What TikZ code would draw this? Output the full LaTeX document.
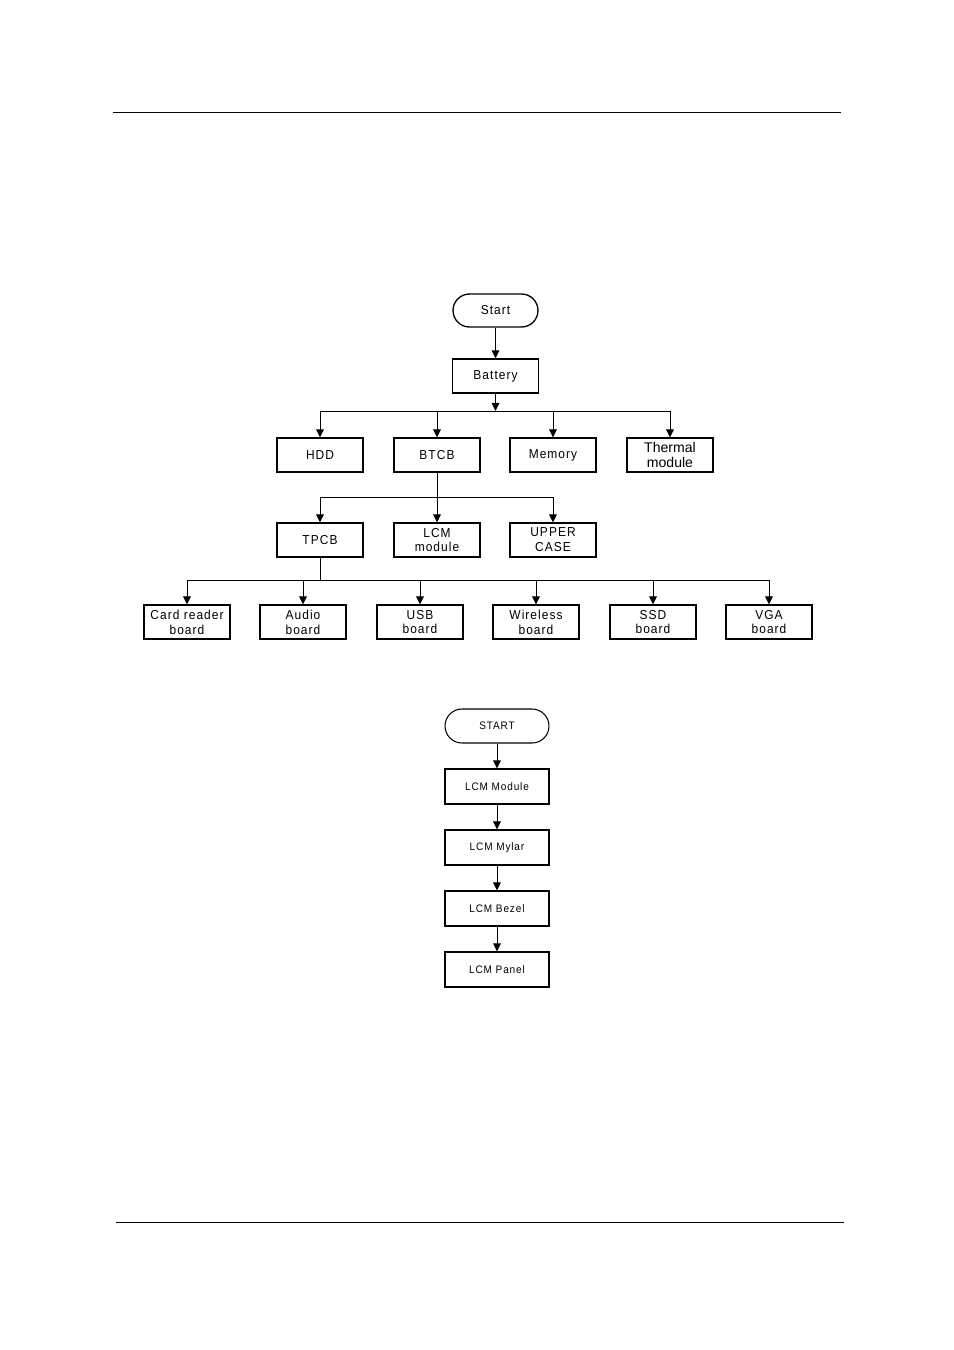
\documentclass[tikz,border=0pt]{standalone}
\usepackage{fontspec}
\setmainfont{Liberation Sans}
\newfontfamily\spacedfont[LetterSpace=8,FakeStretch=0.92]{Liberation Sans}
\usetikzlibrary{arrows.meta}
\tikzset{
	part/.style={draw,line width=0.75pt,minimum width=1.72cm,minimum height=0.68cm,inner sep=0pt,align=center,font=\spacedfont\fontsize{7.4}{8.5}\selectfont},
	startcap/.style={part,minimum width=1.7cm,minimum height=0.66cm,rounded corners=0.33cm},
	lcmpart/.style={part,line width=0.6pt,minimum width=2.08cm,minimum height=0.7cm,font=\spacedfont\fontsize{6.2}{7.3}\selectfont},
	lcmcap/.style={lcmpart,minimum height=0.68cm,rounded corners=0.34cm},
	link/.style={line width=0.55pt},
	feed/.style={link,-{Triangle[length=4.6pt,width=4.4pt]}}
}
\begin{document}
\begin{tikzpicture}[x=0.02cm,y=-0.02cm]
	\useasboundingbox (0,0) rectangle (954,1350);
	\draw [line width=0.55pt] (113,112) -- (841,112);
	\draw [line width=0.55pt] (116,1222) -- (844,1222);
	% main unit
	\node [startcap] (start) at (495.5,310.5) {Start};
	\node [part] (battery) at (495.5,376) {Battery};
	\node [part] (hdd) at (320,455) {HDD};
	\node [part] (btcb) at (437,455) {BTCB};
	\node [part] (memory) at (553,455) {Memory};
	\node [part,font=\fontsize{8}{8.5}\selectfont] (thermal) at (670,455) {Thermal\\module};
	\node [part] (tpcb) at (320,540) {TPCB};
	\node [part] (lcm) at (437,540) {LCM\\module};
	\node [part] (upper) at (553,540) {UPPER\\CASE};
	\node [part] (card) at (187,622) {Card reader\\board};
	\node [part] (audio) at (303,622) {Audio\\board};
	\node [part] (usb) at (420,622) {USB\\board};
	\node [part] (wireless) at (536,622) {Wireless\\board};
	\node [part] (ssd) at (653,622) {SSD\\board};
	\node [part] (vga) at (769,622) {VGA\\board};
	\coordinate (bus1) at (495.5,411);
	\coordinate (bus2) at (437,497);
	\coordinate (bus3) at (320,580);
	\draw [feed] (start) -- (battery);
	\draw [feed] (battery) -- (bus1);
	\draw [link] (hdd |- bus1) -- (thermal |- bus1);
	\foreach \n in {hdd,btcb,memory,thermal}
		\draw [feed] (\n |- bus1) -- (\n);
	\draw [link] (btcb) -- (bus2);
	\draw [link] (tpcb |- bus2) -- (upper |- bus2);
	\foreach \n in {tpcb,lcm,upper}
		\draw [feed] (\n |- bus2) -- (\n);
	\draw [link] (tpcb) -- (bus3);
	\draw [link] (card |- bus3) -- (vga |- bus3);
	\foreach \n in {card,audio,usb,wireless,ssd,vga}
		\draw [feed] (\n |- bus3) -- (\n);
	% LCM unit
	\node [lcmcap] (lstart) at (497,726) {START};
	\node [lcmpart] (lmodule) at (497,786.5) {LCM Module};
	\node [lcmpart] (lmylar) at (497,847.5) {LCM Mylar};
	\node [lcmpart] (lbezel) at (497,908.5) {LCM Bezel};
	\node [lcmpart] (lpanel) at (497,969.5) {LCM Panel};
	\draw [feed] (lstart) -- (lmodule);
	\draw [feed] (lmodule) -- (lmylar);
	\draw [feed] (lmylar) -- (lbezel);
	\draw [feed] (lbezel) -- (lpanel);
\end{tikzpicture}
\end{document}
